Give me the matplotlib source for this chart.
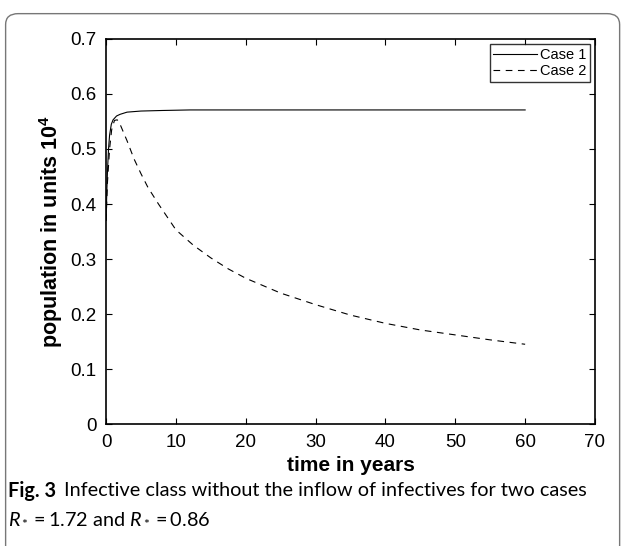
import matplotlib
matplotlib.use("Agg")
import matplotlib.pyplot as plt
from matplotlib.patches import FancyBboxPatch

plt.rcParams['font.family'] = ['Liberation Sans', 'DejaVu Sans']
plt.rcParams['mathtext.fontset'] = 'custom'
plt.rcParams['mathtext.rm'] = 'Lato'
plt.rcParams['mathtext.it'] = 'Lato:italic'
plt.rcParams['mathtext.bf'] = 'Liberation Sans:bold'

t_case1 = [0, 0.1, 0.2, 0.35, 0.5, 0.75, 1.0, 1.5, 2, 3, 5, 8, 12, 20, 30, 40, 50, 60]
case1 = [0.37, 0.42, 0.46, 0.50, 0.525, 0.545, 0.553, 0.56, 0.563, 0.567, 0.569, 0.570, 0.571, 0.571, 0.571, 0.571, 0.571, 0.571]

t_case2 = [0, 0.2, 0.5, 0.8, 1.2, 1.6, 2, 3, 4, 5, 6, 7.5, 10, 12.5, 15, 17.5, 20, 25, 30, 35, 40, 45, 50, 55, 60]
case2 = [0.37, 0.44, 0.50, 0.535, 0.552, 0.553, 0.545, 0.515, 0.482, 0.455, 0.43, 0.40, 0.353, 0.325, 0.302, 0.282, 0.265, 0.238, 0.217, 0.198, 0.183, 0.171, 0.162, 0.153, 0.145]

labels = ["Case 1", "Case 2"]

fig = plt.figure(figsize=(6.24, 5.46), dpi=100)
ax = fig.add_axes([0.170, 0.2234, 0.7835, 0.7052])

ax.plot(t_case1, case1, color="black", linewidth=0.8, label=labels[0])
ax.plot(t_case2, case2, color="black", linewidth=0.8, linestyle=(0, (6, 5)), label=labels[1])

ax.set_xlim(0, 70)
ax.set_ylim(0, 0.7)
ax.set_xticks(range(0, 71, 10))
ax.set_yticks([0, 0.1, 0.2, 0.3, 0.4, 0.5, 0.6, 0.7])
ax.set_yticklabels(["0", "0.1", "0.2", "0.3", "0.4", "0.5", "0.6", "0.7"])
ax.tick_params(direction="in", top=True, right=True, length=4, width=0.8, labelsize=13.5, pad=7)
for s in ax.spines.values():
    s.set_linewidth(1.2)

ax.set_xlabel("time in years", fontsize=15, fontweight="bold", labelpad=4)
ax.set_ylabel("population in units 10$^\\mathbf{4}$", fontsize=15.5, fontweight="bold", labelpad=4)

leg = ax.legend(loc="upper right", fontsize=10.5, frameon=True, fancybox=False,
                edgecolor="black", handlelength=3.0, borderpad=0.25, labelspacing=0.15,
                handletextpad=0.2, borderaxespad=0.35)
leg.get_frame().set_linewidth(1.0)

# rounded frame around the figure
frame = FancyBboxPatch((0.009, -0.02), 0.984, 0.995, boxstyle="round,pad=0,rounding_size=0.02",
                       transform=fig.transFigure, facecolor="none", edgecolor="#777777", linewidth=1.0)
fig.patches.append(frame)

cap_font = ["Lato", "DejaVu Sans"]
fig.text(0.013, 0.101, "Fig. 3", fontsize=14.3, fontweight="bold", family=cap_font, va="center")
fig.text(0.103, 0.101, "Infective class without the inflow of infectives for two cases",
         fontsize=14.3, family=cap_font, va="center")
fig.text(0.013, 0.052, "$R_* = 1.72$ and $R_* = 0.86$", fontsize=14.3,
         family=cap_font, va="center")

fig.savefig("out.png", dpi=100)
